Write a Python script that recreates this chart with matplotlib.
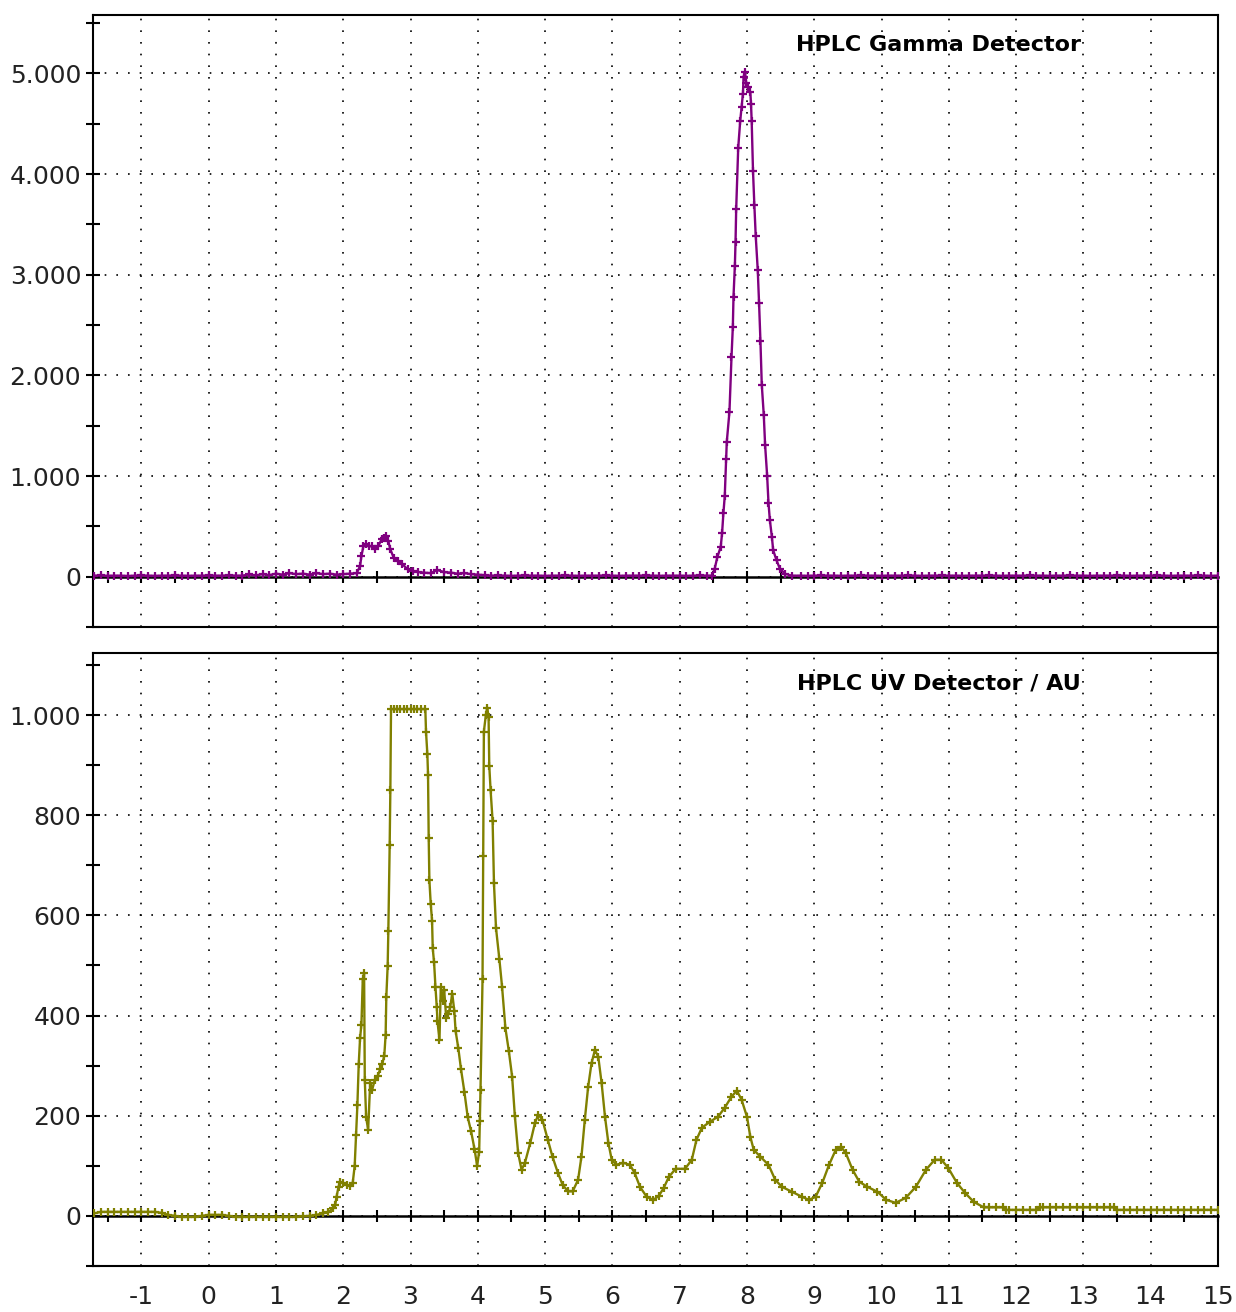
import matplotlib.pyplot as plt
from matplotlib.lines import Line2D
from matplotlib.ticker import FuncFormatter, MultipleLocator

plt.rcParams["font.family"] = ["DejaVu Sans"]
plt.rcParams["axes.unicode_minus"] = False

# gamma detector trace (retention time in min, counts)
gamma_time = [
    -1.7, -1.6, -1.5, -1.4, -1.3, -1.2, -1.1, -1.0, -0.9, -0.8,
    -0.7, -0.6, -0.5, -0.4, -0.3, -0.2, -0.1, 0.0, 0.1, 0.2,
    0.3, 0.4, 0.5, 0.6, 0.7, 0.8, 0.9,
    1.0, 1.1, 1.2, 1.3, 1.4, 1.5, 1.6, 1.7, 1.8, 1.9, 2.0, 2.1, 2.2,
    2.25, 2.27, 2.30, 2.34, 2.38, 2.42, 2.47, 2.52, 2.57, 2.61,
    2.64, 2.67, 2.70, 2.75, 2.81, 2.88, 2.96, 3.03, 3.11,
    3.2, 3.3, 3.4, 3.5, 3.6, 3.7, 3.8, 3.9, 4.0,
    4.1, 4.2, 4.3, 4.4, 4.5, 4.6, 4.7, 4.8, 4.9, 5.0,
    5.1, 5.2, 5.3, 5.4, 5.5, 5.6, 5.7, 5.8, 5.9, 6.0,
    6.1, 6.2, 6.3, 6.4, 6.5, 6.6, 6.7, 6.8, 6.9, 7.0,
    7.1, 7.2, 7.3, 7.4,
    7.48, 7.52, 7.56, 7.61, 7.63, 7.65, 7.67, 7.69, 7.70, 7.74,
    7.77, 7.79, 7.80, 7.82, 7.83, 7.84, 7.87, 7.90, 7.92, 7.94,
    7.95, 7.97, 7.99, 8.01, 8.05, 8.06, 8.07, 8.09, 8.11, 8.13,
    8.16, 8.18, 8.20, 8.22, 8.25, 8.27, 8.30, 8.32, 8.34, 8.37,
    8.39, 8.44, 8.49, 8.57, 8.67,
    8.8, 8.9, 9.0, 9.1, 9.2, 9.3, 9.4, 9.5, 9.6, 9.7,
    9.8, 9.9, 10.0, 10.1, 10.2, 10.3, 10.4, 10.5, 10.6, 10.7,
    10.8, 10.9, 11.0, 11.1, 11.2, 11.3, 11.4, 11.5, 11.6, 11.7,
    11.8, 11.9, 12.0, 12.1, 12.2, 12.3, 12.4, 12.5, 12.6, 12.7,
    12.8, 12.9, 13.0, 13.1, 13.2, 13.3, 13.4, 13.5, 13.6, 13.7,
    13.8, 13.9, 14.0, 14.1, 14.2, 14.3, 14.4, 14.5, 14.6, 14.7,
    14.8, 14.9, 15.0,
]
gamma_counts = [
    10, 12, 8, 10, 10, 6, 10, 12, 10, 8,
    10, 10, 12, 10, 8, 10, 10, 12, 10, 10,
    14, 10, 10, 22, 12, 25, 15,
    30, 20, 35, 25, 30, 20, 35, 25, 30, 20, 25, 30, 35,
    105, 204, 304, 320, 300, 304, 271, 304, 370, 380,
    403, 353, 271, 188, 155, 122, 72, 56, 46,
    40, 35, 66, 45, 40, 30, 35, 25, 20,
    15, 10, 12, 10, 8, 10, 12, 10, 10, 8,
    10, 10, 12, 10, 8, 10, 10, 10, 12, 10,
    8, 10, 10, 10, 12, 10, 8, 10, 10, 10,
    8, 10, 12, 10,
    10, 78, 195, 296, 430, 632, 800, 1170, 1338, 1640,
    2178, 2480, 2782, 3085, 3320, 3656, 4260, 4530, 4664, 4798,
    4966, 5017, 4900, 4866, 4815, 4698, 4530, 4026, 3690, 3387,
    3051, 2715, 2346, 1909, 1606, 1304, 1002, 733, 565, 397,
    262, 162, 78, 27, 10,
    10, 8, 10, 12, 10, 10, 8, 10, 10, 12,
    10, 10, 8, 10, 10, 10, 12, 10, 8, 10,
    10, 12, 10, 10, 8, 10, 10, 10, 12, 10,
    8, 10, 10, 10, 12, 10, 10, 8, 10, 10,
    12, 10, 10, 8, 10, 10, 10, 12, 10, 8,
    10, 10, 10, 12, 10, 8, 10, 10, 10, 12,
    10, 8, 10,
]

# UV detector trace (retention time in min, AU)
uv_time = [
    -1.7, -1.6, -1.5, -1.4, -1.3, -1.2, -1.1, -1.0, -0.9, -0.8,
    -0.7, -0.6, -0.5, -0.4, -0.3, -0.2, -0.1, 0.0, 0.1, 0.2,
    0.3, 0.4, 0.5, 0.6, 0.7, 0.8, 0.9, 1.0, 1.1, 1.2,
    1.3, 1.4, 1.5, 1.6, 1.7,
    1.78, 1.85, 1.88, 1.90, 1.93, 1.95, 2.00, 2.05, 2.10, 2.14,
    2.17, 2.19, 2.21, 2.23, 2.25, 2.27, 2.29, 2.31, 2.32, 2.34,
    2.37, 2.40, 2.43, 2.47, 2.51, 2.55, 2.58, 2.61, 2.63, 2.64,
    2.66, 2.67, 2.69, 2.70, 2.71, 2.75, 2.80, 2.85, 2.90, 2.95,
    3.00, 3.05, 3.10, 3.15, 3.22,
    3.23, 3.25, 3.26, 3.27, 3.28, 3.30, 3.32, 3.33, 3.35, 3.37,
    3.39, 3.40, 3.43, 3.45, 3.48, 3.50, 3.53, 3.56, 3.59, 3.62,
    3.65, 3.67, 3.71, 3.75, 3.80, 3.85, 3.90, 3.95, 3.99, 4.02,
    4.03, 4.04, 4.07, 4.08, 4.09, 4.12, 4.14, 4.16, 4.17, 4.19,
    4.22, 4.24, 4.27, 4.32, 4.36, 4.41, 4.46, 4.51, 4.55, 4.60,
    4.65, 4.70, 4.78, 4.85, 4.90, 4.96, 5.04, 5.11, 5.19, 5.26,
    5.34, 5.41, 5.49, 5.54, 5.59, 5.64, 5.69, 5.74, 5.79, 5.84,
    5.89, 5.94, 5.99, 6.06, 6.16, 6.26, 6.33, 6.41, 6.51, 6.61,
    6.69, 6.76, 6.84, 6.94, 7.08, 7.18, 7.25, 7.33, 7.45, 7.57,
    7.67, 7.77, 7.85, 7.92, 8.00, 8.05, 8.10, 8.20, 8.32, 8.42,
    8.52, 8.67, 8.82, 8.92, 9.02, 9.12, 9.22, 9.32, 9.40, 9.47,
    9.57, 9.67, 9.79, 9.94, 10.07, 10.21, 10.36, 10.51, 10.66, 10.79,
    10.89, 10.99, 11.12, 11.24, 11.37, 11.52, 11.6, 11.7, 11.8, 11.85,
    11.9, 12.0, 12.1, 12.2, 12.3, 12.35,
    12.4, 12.5, 12.6, 12.7, 12.8, 12.9, 13.0, 13.1, 13.2, 13.3,
    13.4, 13.45,
    13.5, 13.6, 13.7, 13.8, 13.9, 14.0, 14.1, 14.2, 14.3, 14.4,
    14.5, 14.6, 14.7, 14.8, 14.9, 15.0,
]
uv_abs = [
    5, 8, 8, 8, 8, 8, 8, 8, 8, 8,
    6, 2, 0, -2, -2, -2, 0, 2, 2, 2,
    0, -2, -2, -2, -2, -2, -2, -2, -2, -2,
    -2, -1, 0, 2, 5,
    8, 15, 21, 38, 58, 68, 66, 62, 59, 65,
    100, 162, 221, 303, 355, 382, 472, 485, 272, 197,
    172, 265, 252, 272, 279, 293, 303, 320, 362, 437,
    499, 568, 740, 850, 1012, 1012, 1012, 1012, 1012, 1012,
    1012, 1012, 1012, 1012, 1012,
    967, 922, 881, 754, 671, 623, 589, 534, 506, 458,
    417, 389, 351, 458, 430, 451, 396, 403, 417, 444,
    410, 369, 335, 293, 248, 197, 169, 134, 100, 128,
    190, 252, 472, 719, 967, 1001, 1015, 996, 899, 850,
    788, 664, 575, 513, 458, 375, 330, 278, 200, 125,
    92, 106, 146, 186, 202, 192, 152, 118, 86, 62,
    49, 49, 72, 118, 192, 258, 305, 331, 318, 265,
    198, 146, 112, 102, 106, 102, 86, 58, 38, 32,
    40, 55, 78, 94, 94, 112, 152, 176, 188, 198,
    216, 238, 250, 232, 198, 158, 132, 118, 102, 72,
    58, 48, 38, 32, 38, 66, 102, 132, 138, 125,
    92, 68, 58, 48, 32, 26, 36, 58, 92, 112,
    112, 96, 66, 46, 28, 17, 17, 17, 17, 12,
    12, 12, 12, 12, 12, 17,
    17, 17, 17, 17, 17, 17, 17, 17, 17, 17,
    17, 17,
    12, 12, 12, 12, 12, 12, 12, 12, 12, 12,
    12, 12, 12, 12, 12, 12,
]


def thousands(v, pos):
    return f"{v:,.0f}".replace(",", ".")


def style_panel(ax, ylim, major, minor, title, show_xlabels):
    ax.set_xlim(-1.72, 15.0)
    ax.set_ylim(*ylim)
    ax.xaxis.set_major_locator(MultipleLocator(1))
    ax.yaxis.set_major_locator(MultipleLocator(major))
    ax.yaxis.set_minor_locator(MultipleLocator(minor))
    ax.yaxis.set_major_formatter(FuncFormatter(thousands))
    ax.tick_params(axis="y", which="both", direction="inout", length=10,
                   width=1.5, labelsize=18, labelcolor="#222222")
    ax.tick_params(axis="x", length=0, labelsize=18, pad=14,
                   labelcolor="#222222", labelbottom=show_xlabels)
    for s in ax.spines.values():
        s.set_linewidth(1.5)
    ax.grid(True, which="major", color="black", linestyle=(0, (1, 6)),
            linewidth=1.2)

    # time axis drawn along the zero line
    zero = ax.secondary_xaxis(0, transform=ax.transData)
    zero.xaxis.set_major_locator(MultipleLocator(1))
    zero.xaxis.set_minor_locator(MultipleLocator(0.5))
    zero.tick_params(which="both", direction="inout", length=9, width=1.5,
                     labelbottom=False)
    zero.spines["bottom"].set_linewidth(1.8)

    ax.text(0.752, 0.951, title, transform=ax.transAxes, ha="center",
            va="center", fontsize=16, fontweight="bold")


fig = plt.figure(figsize=(12.36, 13.12), dpi=100)
left, width = 0.0752, 0.9102
ax1 = fig.add_axes([left, 0.5221, width, 0.4665])
ax2 = fig.add_axes([left, 0.0351, width, 0.4672])

ax1.plot(gamma_time, gamma_counts, color="#800080", linewidth=1.7,
         marker="+", markersize=6, markeredgewidth=1.6, zorder=3)
ax2.plot(uv_time, uv_abs, color="#808000", linewidth=1.7,
         marker="+", markersize=6, markeredgewidth=1.6, zorder=3)

style_panel(ax1, (-500, 5580), 1000, 500, "HPLC Gamma Detector", False)
style_panel(ax2, (-100, 1124), 200, 100, "HPLC UV Detector / AU", True)

# right border runs through the gap between the panels
x_right = left + width
fig.add_artist(Line2D([x_right, x_right], [0.0351 + 0.4672, 0.5221],
                      transform=fig.transFigure, color="black", linewidth=1.5))

plt.savefig("out.png", dpi=100)
